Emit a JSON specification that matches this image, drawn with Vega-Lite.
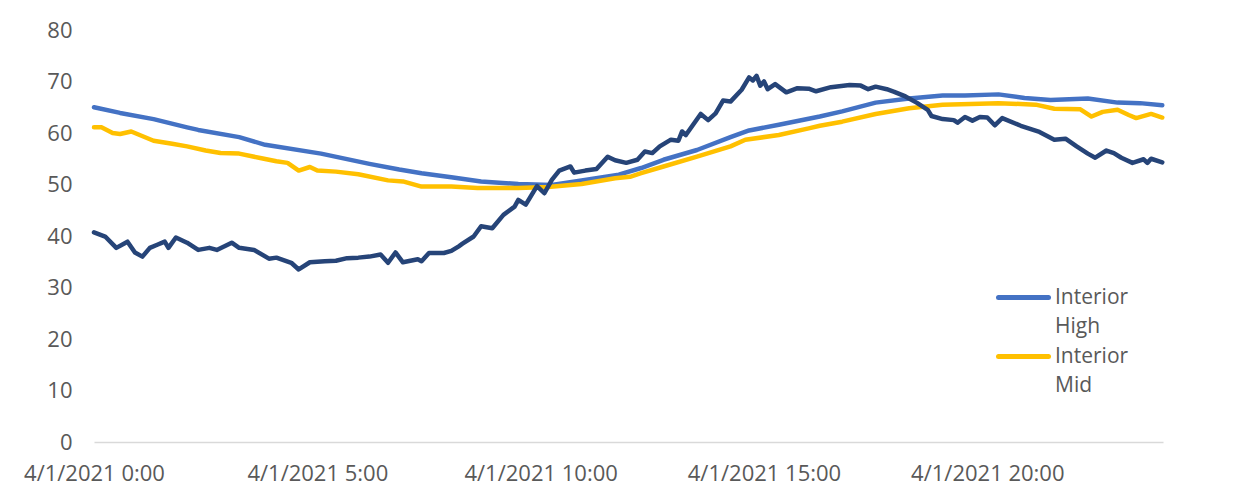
{
  "$schema": "https://vega.github.io/schema/vega-lite/v6.json",
  "width": 1069,
  "height": 412,
  "autosize": {"type": "none"},
  "padding": {"left": 94, "top": 30, "right": 91, "bottom": 49},
  "background": "#ffffff",
  "config": {
    "view": {"stroke": null},
    "font": "Open Sans"
  },
  "data": {
    "values": [
      {"time": "2021-04-01 00:00", "series": "Interior High", "value": 65.0},
      {"time": "2021-04-01 00:35", "series": "Interior High", "value": 63.9},
      {"time": "2021-04-01 01:20", "series": "Interior High", "value": 62.7},
      {"time": "2021-04-01 02:05", "series": "Interior High", "value": 61.1},
      {"time": "2021-04-01 02:20", "series": "Interior High", "value": 60.6},
      {"time": "2021-04-01 03:15", "series": "Interior High", "value": 59.2},
      {"time": "2021-04-01 03:50", "series": "Interior High", "value": 57.7},
      {"time": "2021-04-01 05:05", "series": "Interior High", "value": 56.0},
      {"time": "2021-04-01 06:10", "series": "Interior High", "value": 54.0},
      {"time": "2021-04-01 06:50", "series": "Interior High", "value": 52.9},
      {"time": "2021-04-01 07:20", "series": "Interior High", "value": 52.2},
      {"time": "2021-04-01 08:00", "series": "Interior High", "value": 51.4},
      {"time": "2021-04-01 08:40", "series": "Interior High", "value": 50.6},
      {"time": "2021-04-01 09:30", "series": "Interior High", "value": 50.1},
      {"time": "2021-04-01 10:15", "series": "Interior High", "value": 49.9},
      {"time": "2021-04-01 10:55", "series": "Interior High", "value": 50.8},
      {"time": "2021-04-01 11:45", "series": "Interior High", "value": 51.9},
      {"time": "2021-04-01 12:15", "series": "Interior High", "value": 53.2},
      {"time": "2021-04-01 12:45", "series": "Interior High", "value": 54.8},
      {"time": "2021-04-01 13:30", "series": "Interior High", "value": 56.7},
      {"time": "2021-04-01 14:15", "series": "Interior High", "value": 59.2},
      {"time": "2021-04-01 14:40", "series": "Interior High", "value": 60.5},
      {"time": "2021-04-01 15:20", "series": "Interior High", "value": 61.6},
      {"time": "2021-04-01 16:15", "series": "Interior High", "value": 63.2},
      {"time": "2021-04-01 16:45", "series": "Interior High", "value": 64.2},
      {"time": "2021-04-01 17:30", "series": "Interior High", "value": 65.9},
      {"time": "2021-04-01 18:15", "series": "Interior High", "value": 66.7},
      {"time": "2021-04-01 19:00", "series": "Interior High", "value": 67.3},
      {"time": "2021-04-01 19:30", "series": "Interior High", "value": 67.3},
      {"time": "2021-04-01 20:15", "series": "Interior High", "value": 67.5},
      {"time": "2021-04-01 20:50", "series": "Interior High", "value": 66.8},
      {"time": "2021-04-01 21:25", "series": "Interior High", "value": 66.4},
      {"time": "2021-04-01 22:15", "series": "Interior High", "value": 66.7},
      {"time": "2021-04-01 22:55", "series": "Interior High", "value": 65.9},
      {"time": "2021-04-01 23:25", "series": "Interior High", "value": 65.8},
      {"time": "2021-04-01 23:55", "series": "Interior High", "value": 65.4},

      {"time": "2021-04-01 00:00", "series": "Interior Mid", "value": 61.1},
      {"time": "2021-04-01 00:10", "series": "Interior Mid", "value": 61.1},
      {"time": "2021-04-01 00:25", "series": "Interior Mid", "value": 60.0},
      {"time": "2021-04-01 00:35", "series": "Interior Mid", "value": 59.8},
      {"time": "2021-04-01 00:50", "series": "Interior Mid", "value": 60.3},
      {"time": "2021-04-01 01:20", "series": "Interior Mid", "value": 58.5},
      {"time": "2021-04-01 01:45", "series": "Interior Mid", "value": 57.9},
      {"time": "2021-04-01 02:05", "series": "Interior Mid", "value": 57.4},
      {"time": "2021-04-01 02:30", "series": "Interior Mid", "value": 56.6},
      {"time": "2021-04-01 02:50", "series": "Interior Mid", "value": 56.1},
      {"time": "2021-04-01 03:15", "series": "Interior Mid", "value": 56.0},
      {"time": "2021-04-01 03:45", "series": "Interior Mid", "value": 55.1},
      {"time": "2021-04-01 04:05", "series": "Interior Mid", "value": 54.5},
      {"time": "2021-04-01 04:20", "series": "Interior Mid", "value": 54.2},
      {"time": "2021-04-01 04:35", "series": "Interior Mid", "value": 52.7},
      {"time": "2021-04-01 04:50", "series": "Interior Mid", "value": 53.4},
      {"time": "2021-04-01 05:00", "series": "Interior Mid", "value": 52.7},
      {"time": "2021-04-01 05:25", "series": "Interior Mid", "value": 52.5},
      {"time": "2021-04-01 05:55", "series": "Interior Mid", "value": 52.0},
      {"time": "2021-04-01 06:35", "series": "Interior Mid", "value": 50.8},
      {"time": "2021-04-01 06:55", "series": "Interior Mid", "value": 50.6},
      {"time": "2021-04-01 07:20", "series": "Interior Mid", "value": 49.6},
      {"time": "2021-04-01 08:00", "series": "Interior Mid", "value": 49.6},
      {"time": "2021-04-01 08:35", "series": "Interior Mid", "value": 49.3},
      {"time": "2021-04-01 09:30", "series": "Interior Mid", "value": 49.3},
      {"time": "2021-04-01 10:10", "series": "Interior Mid", "value": 49.5},
      {"time": "2021-04-01 10:55", "series": "Interior Mid", "value": 50.1},
      {"time": "2021-04-01 11:40", "series": "Interior Mid", "value": 51.2},
      {"time": "2021-04-01 12:00", "series": "Interior Mid", "value": 51.5},
      {"time": "2021-04-01 12:15", "series": "Interior Mid", "value": 52.2},
      {"time": "2021-04-01 12:45", "series": "Interior Mid", "value": 53.5},
      {"time": "2021-04-01 13:30", "series": "Interior Mid", "value": 55.4},
      {"time": "2021-04-01 14:15", "series": "Interior Mid", "value": 57.4},
      {"time": "2021-04-01 14:35", "series": "Interior Mid", "value": 58.7},
      {"time": "2021-04-01 15:20", "series": "Interior Mid", "value": 59.6},
      {"time": "2021-04-01 16:00", "series": "Interior Mid", "value": 60.9},
      {"time": "2021-04-01 16:15", "series": "Interior Mid", "value": 61.4},
      {"time": "2021-04-01 16:45", "series": "Interior Mid", "value": 62.2},
      {"time": "2021-04-01 17:30", "series": "Interior Mid", "value": 63.7},
      {"time": "2021-04-01 18:15", "series": "Interior Mid", "value": 64.8},
      {"time": "2021-04-01 19:00", "series": "Interior Mid", "value": 65.5},
      {"time": "2021-04-01 20:15", "series": "Interior Mid", "value": 65.8},
      {"time": "2021-04-01 21:05", "series": "Interior Mid", "value": 65.5},
      {"time": "2021-04-01 21:30", "series": "Interior Mid", "value": 64.7},
      {"time": "2021-04-01 22:05", "series": "Interior Mid", "value": 64.6},
      {"time": "2021-04-01 22:20", "series": "Interior Mid", "value": 63.2},
      {"time": "2021-04-01 22:35", "series": "Interior Mid", "value": 64.1},
      {"time": "2021-04-01 22:55", "series": "Interior Mid", "value": 64.5},
      {"time": "2021-04-01 23:10", "series": "Interior Mid", "value": 63.5},
      {"time": "2021-04-01 23:20", "series": "Interior Mid", "value": 62.9},
      {"time": "2021-04-01 23:40", "series": "Interior Mid", "value": 63.7},
      {"time": "2021-04-01 23:55", "series": "Interior Mid", "value": 63.0},

      {"time": "2021-04-01 00:00", "series": "Exterior", "value": 40.7},
      {"time": "2021-04-01 00:15", "series": "Exterior", "value": 39.9},
      {"time": "2021-04-01 00:30", "series": "Exterior", "value": 37.7},
      {"time": "2021-04-01 00:45", "series": "Exterior", "value": 38.9},
      {"time": "2021-04-01 00:55", "series": "Exterior", "value": 36.8},
      {"time": "2021-04-01 01:05", "series": "Exterior", "value": 36.0},
      {"time": "2021-04-01 01:15", "series": "Exterior", "value": 37.7},
      {"time": "2021-04-01 01:25", "series": "Exterior", "value": 38.3},
      {"time": "2021-04-01 01:35", "series": "Exterior", "value": 38.9},
      {"time": "2021-04-01 01:40", "series": "Exterior", "value": 37.7},
      {"time": "2021-04-01 01:50", "series": "Exterior", "value": 39.7},
      {"time": "2021-04-01 02:05", "series": "Exterior", "value": 38.7},
      {"time": "2021-04-01 02:20", "series": "Exterior", "value": 37.3},
      {"time": "2021-04-01 02:35", "series": "Exterior", "value": 37.7},
      {"time": "2021-04-01 02:45", "series": "Exterior", "value": 37.3},
      {"time": "2021-04-01 03:05", "series": "Exterior", "value": 38.7},
      {"time": "2021-04-01 03:15", "series": "Exterior", "value": 37.7},
      {"time": "2021-04-01 03:35", "series": "Exterior", "value": 37.3},
      {"time": "2021-04-01 03:55", "series": "Exterior", "value": 35.6},
      {"time": "2021-04-01 04:05", "series": "Exterior", "value": 35.8},
      {"time": "2021-04-01 04:25", "series": "Exterior", "value": 34.8},
      {"time": "2021-04-01 04:35", "series": "Exterior", "value": 33.5},
      {"time": "2021-04-01 04:50", "series": "Exterior", "value": 34.9},
      {"time": "2021-04-01 05:10", "series": "Exterior", "value": 35.1},
      {"time": "2021-04-01 05:25", "series": "Exterior", "value": 35.2},
      {"time": "2021-04-01 05:40", "series": "Exterior", "value": 35.7},
      {"time": "2021-04-01 05:55", "series": "Exterior", "value": 35.8},
      {"time": "2021-04-01 06:10", "series": "Exterior", "value": 36.0},
      {"time": "2021-04-01 06:25", "series": "Exterior", "value": 36.4},
      {"time": "2021-04-01 06:35", "series": "Exterior", "value": 34.8},
      {"time": "2021-04-01 06:45", "series": "Exterior", "value": 36.8},
      {"time": "2021-04-01 06:55", "series": "Exterior", "value": 34.9},
      {"time": "2021-04-01 07:15", "series": "Exterior", "value": 35.5},
      {"time": "2021-04-01 07:20", "series": "Exterior", "value": 35.1},
      {"time": "2021-04-01 07:30", "series": "Exterior", "value": 36.7},
      {"time": "2021-04-01 07:50", "series": "Exterior", "value": 36.7},
      {"time": "2021-04-01 08:00", "series": "Exterior", "value": 37.1},
      {"time": "2021-04-01 08:10", "series": "Exterior", "value": 38.0},
      {"time": "2021-04-01 08:15", "series": "Exterior", "value": 38.5},
      {"time": "2021-04-01 08:30", "series": "Exterior", "value": 39.9},
      {"time": "2021-04-01 08:40", "series": "Exterior", "value": 41.9},
      {"time": "2021-04-01 08:55", "series": "Exterior", "value": 41.5},
      {"time": "2021-04-01 09:10", "series": "Exterior", "value": 44.1},
      {"time": "2021-04-01 09:25", "series": "Exterior", "value": 45.7},
      {"time": "2021-04-01 09:30", "series": "Exterior", "value": 47.0},
      {"time": "2021-04-01 09:40", "series": "Exterior", "value": 46.1},
      {"time": "2021-04-01 09:55", "series": "Exterior", "value": 49.7},
      {"time": "2021-04-01 10:05", "series": "Exterior", "value": 48.3},
      {"time": "2021-04-01 10:15", "series": "Exterior", "value": 50.9},
      {"time": "2021-04-01 10:25", "series": "Exterior", "value": 52.7},
      {"time": "2021-04-01 10:40", "series": "Exterior", "value": 53.5},
      {"time": "2021-04-01 10:45", "series": "Exterior", "value": 52.3},
      {"time": "2021-04-01 11:00", "series": "Exterior", "value": 52.7},
      {"time": "2021-04-01 11:15", "series": "Exterior", "value": 53.0},
      {"time": "2021-04-01 11:30", "series": "Exterior", "value": 55.4},
      {"time": "2021-04-01 11:40", "series": "Exterior", "value": 54.7},
      {"time": "2021-04-01 11:55", "series": "Exterior", "value": 54.2},
      {"time": "2021-04-01 12:10", "series": "Exterior", "value": 54.8},
      {"time": "2021-04-01 12:20", "series": "Exterior", "value": 56.4},
      {"time": "2021-04-01 12:30", "series": "Exterior", "value": 56.1},
      {"time": "2021-04-01 12:40", "series": "Exterior", "value": 57.4},
      {"time": "2021-04-01 12:55", "series": "Exterior", "value": 58.7},
      {"time": "2021-04-01 13:05", "series": "Exterior", "value": 58.5},
      {"time": "2021-04-01 13:10", "series": "Exterior", "value": 60.3},
      {"time": "2021-04-01 13:15", "series": "Exterior", "value": 59.6},
      {"time": "2021-04-01 13:35", "series": "Exterior", "value": 63.7},
      {"time": "2021-04-01 13:45", "series": "Exterior", "value": 62.5},
      {"time": "2021-04-01 13:55", "series": "Exterior", "value": 63.8},
      {"time": "2021-04-01 14:05", "series": "Exterior", "value": 66.3},
      {"time": "2021-04-01 14:15", "series": "Exterior", "value": 66.1},
      {"time": "2021-04-01 14:30", "series": "Exterior", "value": 68.4},
      {"time": "2021-04-01 14:40", "series": "Exterior", "value": 70.8},
      {"time": "2021-04-01 14:45", "series": "Exterior", "value": 70.2},
      {"time": "2021-04-01 14:50", "series": "Exterior", "value": 71.1},
      {"time": "2021-04-01 14:55", "series": "Exterior", "value": 69.2},
      {"time": "2021-04-01 15:00", "series": "Exterior", "value": 70.0},
      {"time": "2021-04-01 15:05", "series": "Exterior", "value": 68.5},
      {"time": "2021-04-01 15:15", "series": "Exterior", "value": 69.5},
      {"time": "2021-04-01 15:30", "series": "Exterior", "value": 67.9},
      {"time": "2021-04-01 15:45", "series": "Exterior", "value": 68.7},
      {"time": "2021-04-01 16:00", "series": "Exterior", "value": 68.6},
      {"time": "2021-04-01 16:10", "series": "Exterior", "value": 68.1},
      {"time": "2021-04-01 16:30", "series": "Exterior", "value": 68.9},
      {"time": "2021-04-01 16:55", "series": "Exterior", "value": 69.3},
      {"time": "2021-04-01 17:10", "series": "Exterior", "value": 69.2},
      {"time": "2021-04-01 17:20", "series": "Exterior", "value": 68.5},
      {"time": "2021-04-01 17:30", "series": "Exterior", "value": 69.0},
      {"time": "2021-04-01 17:45", "series": "Exterior", "value": 68.5},
      {"time": "2021-04-01 17:55", "series": "Exterior", "value": 68.0},
      {"time": "2021-04-01 18:10", "series": "Exterior", "value": 67.1},
      {"time": "2021-04-01 18:25", "series": "Exterior", "value": 65.9},
      {"time": "2021-04-01 18:40", "series": "Exterior", "value": 64.5},
      {"time": "2021-04-01 18:45", "series": "Exterior", "value": 63.3},
      {"time": "2021-04-01 19:00", "series": "Exterior", "value": 62.7},
      {"time": "2021-04-01 19:15", "series": "Exterior", "value": 62.5},
      {"time": "2021-04-01 19:20", "series": "Exterior", "value": 62.0},
      {"time": "2021-04-01 19:30", "series": "Exterior", "value": 63.1},
      {"time": "2021-04-01 19:40", "series": "Exterior", "value": 62.4},
      {"time": "2021-04-01 19:50", "series": "Exterior", "value": 63.1},
      {"time": "2021-04-01 20:00", "series": "Exterior", "value": 63.0},
      {"time": "2021-04-01 20:10", "series": "Exterior", "value": 61.5},
      {"time": "2021-04-01 20:20", "series": "Exterior", "value": 62.9},
      {"time": "2021-04-01 20:45", "series": "Exterior", "value": 61.4},
      {"time": "2021-04-01 21:10", "series": "Exterior", "value": 60.2},
      {"time": "2021-04-01 21:30", "series": "Exterior", "value": 58.7},
      {"time": "2021-04-01 21:45", "series": "Exterior", "value": 58.9},
      {"time": "2021-04-01 22:00", "series": "Exterior", "value": 57.4},
      {"time": "2021-04-01 22:15", "series": "Exterior", "value": 56.0},
      {"time": "2021-04-01 22:25", "series": "Exterior", "value": 55.2},
      {"time": "2021-04-01 22:40", "series": "Exterior", "value": 56.6},
      {"time": "2021-04-01 22:50", "series": "Exterior", "value": 56.1},
      {"time": "2021-04-01 23:00", "series": "Exterior", "value": 55.2},
      {"time": "2021-04-01 23:15", "series": "Exterior", "value": 54.2},
      {"time": "2021-04-01 23:30", "series": "Exterior", "value": 54.9},
      {"time": "2021-04-01 23:35", "series": "Exterior", "value": 54.2},
      {"time": "2021-04-01 23:40", "series": "Exterior", "value": 55.0},
      {"time": "2021-04-01 23:55", "series": "Exterior", "value": 54.3}
    ]
  },
  "encoding": {
    "x": {
      "field": "time",
      "type": "temporal",
      "scale": {
        "domain": [
          {"year": 2021, "month": 4, "date": 1, "hours": 0},
          {"year": 2021, "month": 4, "date": 1, "hours": 23, "minutes": 56}
        ]
      },
      "axis": {
        "title": null,
        "format": "%-m/%-d/%Y %-H:%M",
        "values": [
          {"year": 2021, "month": 4, "date": 1, "hours": 0},
          {"year": 2021, "month": 4, "date": 1, "hours": 5},
          {"year": 2021, "month": 4, "date": 1, "hours": 10},
          {"year": 2021, "month": 4, "date": 1, "hours": 15},
          {"year": 2021, "month": 4, "date": 1, "hours": 20}
        ],
        "grid": false,
        "ticks": false,
        "tickSize": 0,
        "domainColor": "#d9d9d9",
        "domainWidth": 1.5,
        "labelFont": "Open Sans",
        "labelFontSize": 22,
        "labelColor": "#595959",
        "labelPadding": 21,
        "labelFlush": false,
        "labelOverlap": false,
        "labelBound": false
      }
    },
    "y": {
      "field": "value",
      "type": "quantitative",
      "scale": {"domain": [0, 80], "nice": false},
      "axis": {
        "title": null,
        "values": [0, 10, 20, 30, 40, 50, 60, 70, 80],
        "grid": false,
        "ticks": false,
        "tickSize": 0,
        "domain": false,
        "labelFont": "Open Sans",
        "labelFontSize": 22,
        "labelColor": "#595959",
        "labelPadding": 22
      }
    },
    "color": {
      "field": "series",
      "type": "nominal",
      "scale": {
        "domain": ["Interior High", "Interior Mid", "Exterior"],
        "range": ["#4472c4", "#ffc000", "#264478"]
      },
      "legend": {
        "values": ["Interior High", "Interior Mid"],
        "title": null,
        "orient": "none",
        "legendX": 910,
        "legendY": 248,
        "padding": 0,
        "rowPadding": 0,
        "symbolType": "M-1.47,0H1.47",
        "symbolSize": 1156,
        "symbolStrokeWidth": 5,
        "labelFont": "Open Sans",
        "labelFontSize": 21,
        "labelColor": "#595959",
        "labelOffset": 12,
        "labelLimit": 300,
        "labelExpr": "split(datum.label, ' ')",
        "encoding": {
          "labels": {"lineHeight": {"value": 29}},
          "symbols": {"strokeCap": {"value": "round"}}
        }
      }
    }
  },
  "layer": [
    {
      "transform": [{"filter": "datum.series === 'Interior High'"}],
      "mark": {"type": "line", "strokeWidth": 4.5, "strokeCap": "round", "strokeJoin": "round"}
    },
    {
      "transform": [{"filter": "datum.series === 'Interior Mid'"}],
      "mark": {"type": "line", "strokeWidth": 4.5, "strokeCap": "round", "strokeJoin": "round"}
    },
    {
      "transform": [{"filter": "datum.series === 'Exterior'"}],
      "mark": {"type": "line", "strokeWidth": 4.5, "strokeCap": "round", "strokeJoin": "round"}
    }
  ]
}
